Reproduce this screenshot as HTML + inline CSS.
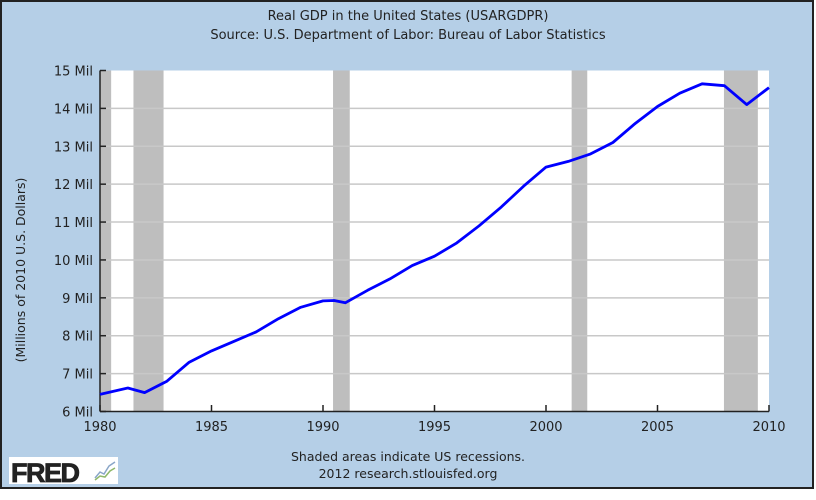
<!DOCTYPE html>
<html><head><meta charset="utf-8"><style>
body{margin:0;background:#fff;}
svg text{font-family:"DejaVu Sans","Liberation Sans",sans-serif;fill:#222;}
</style></head><body>
<svg width="816" height="495" viewBox="0 0 816 495">
<rect x="1" y="1" width="812" height="487" fill="#b5cfe7" stroke="#222" stroke-width="2"/>
<text x="408" y="20" font-size="13" text-anchor="middle">Real GDP in the United States (USARGDPR)</text>
<text x="408" y="39" font-size="13" text-anchor="middle">Source: U.S. Department of Labor: Bureau of Labor Statistics</text>
<rect x="100" y="70.5" width="669" height="341" fill="#fff"/>
<g id="rec"></g><g id="grid"></g><g id="axes"></g>
<path id="line" fill="none" stroke="#0000ff" stroke-width="2.8" stroke-linejoin="round"/>
<text transform="translate(25,270) rotate(-90)" font-size="12.5" text-anchor="middle">(Millions of 2010 U.S. Dollars)</text>
<text x="408" y="461" font-size="12.5" text-anchor="middle">Shaded areas indicate US recessions.</text>
<text x="408" y="478" font-size="12.5" text-anchor="middle">2012 research.stlouisfed.org</text>
<g>
<rect x="9" y="457" width="109" height="27" fill="#fff"/>
<text x="11" y="482" font-size="27" font-weight="bold" style="font-family:'Liberation Sans',sans-serif;fill:#222" letter-spacing="-1.5" stroke="#222" stroke-width="0.8">FRED</text>
<polyline points="95,478 100,472 104,474 109,466 115,462" fill="none" stroke="#8aa6c8" stroke-width="1.5"/>
<polyline points="95,480 100,476 105,477 110,471 115,468" fill="none" stroke="#8fb86a" stroke-width="1.5"/>
</g>
</svg>
<script>
const years=[1980,1981.25,1982,1983,1984,1985,1986,1987,1988,1989,1990,1990.5,1991,1992,1993,1994,1995,1996,1997,1998,1999,2000,2001,2002,2003,2004,2005,2006,2007,2008,2009,2010];
const gdp=[6.45,6.62,6.5,6.8,7.3,7.6,7.85,8.1,8.45,8.75,8.92,8.93,8.87,9.2,9.5,9.85,10.1,10.45,10.9,11.4,11.95,12.45,12.6,12.8,13.1,13.6,14.05,14.4,14.65,14.6,14.1,14.55];
const recStart=[1980,1981.5,1990.45,2001.15,2007.98];
const recEnd=[1980.5,1982.85,1991.2,2001.85,2009.5];
const yTicks=[6,7,8,9,10,11,12,13,14,15];
const xTicks=[1980,1985,1990,1995,2000,2005,2010];
const NS='http://www.w3.org/2000/svg';
const X=v=>100+(v-1980)*(669/30);
const Y=v=>411.5-(v-6)*(341/9);
function mk(t,a,p){const e=document.createElementNS(NS,t);for(const k in a)e.setAttribute(k,a[k]);p.appendChild(e);return e;}
const rec=document.getElementById('rec'),grid=document.getElementById('grid'),axes=document.getElementById('axes');
recStart.forEach((s,i)=>{
const r=mk('rect',{x:X(s),y:70.5,width:X(recEnd[i])-X(s),height:341,fill:'#bebebe'},rec);


});
yTicks.forEach(v=>{
if(v>6&&v<15){const l=mk('line',{x1:100,x2:769,y1:Y(v),y2:Y(v),stroke:'#c8c8c8','stroke-width':1.5},grid);

}
mk('line',{x1:100,x2:106,y1:Y(v),y2:Y(v),stroke:'#222','stroke-width':1.5},axes);
const t=mk('text',{x:93,y:Y(v)+5,'font-size':13,'text-anchor':'end'},axes);t.textContent=v+' Mil';


});
xTicks.forEach(v=>{
mk('line',{x1:X(v),x2:X(v),y1:411.5,y2:405,stroke:'#222','stroke-width':1.5},axes);
const t=mk('text',{x:X(v),y:431,'font-size':13,'text-anchor':'middle'},axes);t.textContent=v;


});
mk('line',{x1:100,x2:100,y1:70.5,y2:411.5,stroke:'#222','stroke-width':1.5},axes);
mk('line',{x1:100,x2:769,y1:411.5,y2:411.5,stroke:'#222','stroke-width':1.5},axes);
document.getElementById('line').setAttribute('d',years.map((y,i)=>(i?'L':'M')+X(y).toFixed(1)+','+Y(gdp[i]).toFixed(1)).join(''));
</script>
</body></html>
